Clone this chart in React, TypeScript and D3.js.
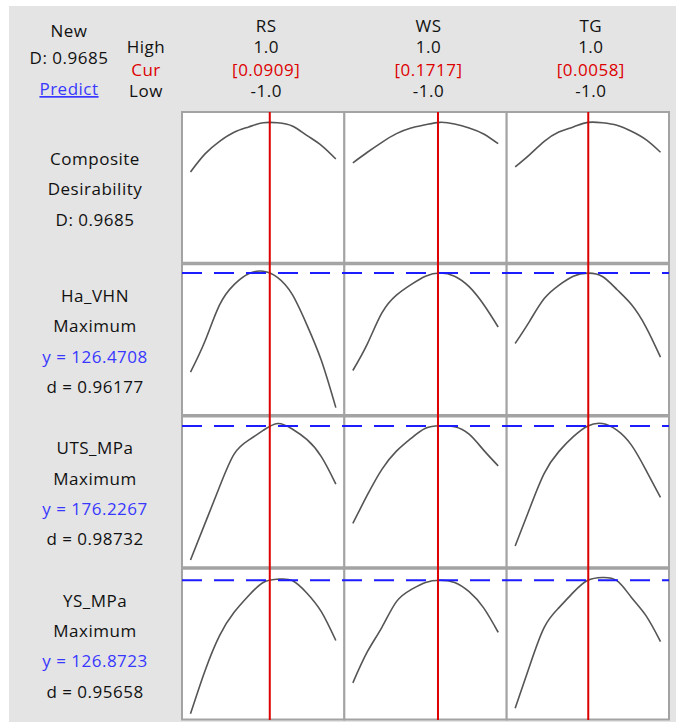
import React from "react";
import * as d3 from "d3";

// Factor settings (coded units)
const factors = ["RS", "WS", "TG"];
const factorHigh = ["1.0", "1.0", "1.0"];
const factorLow = ["-1.0", "-1.0", "-1.0"];
const factorCur = [0.0909, 0.1717, 0.0058];

// Factor levels at which each response trace is sampled
const levels = [-1, -0.8, -0.6, -0.4, -0.2, 0, 0.2, 0.4, 0.6, 0.8, 1];

// Composite desirability traces
const compositeRS = [0.614, 0.743, 0.833, 0.898, 0.936, 0.966, 0.966, 0.943, 0.876, 0.805, 0.707];
const compositeWS = [0.679, 0.755, 0.826, 0.888, 0.929, 0.952, 0.969, 0.957, 0.929, 0.886, 0.816];
const compositeTG = [0.65, 0.738, 0.833, 0.9, 0.936, 0.9685, 0.966, 0.948, 0.905, 0.845, 0.755];

// Ha_VHN traces
const haRS = [98.2, 107.1, 117.4, 123.2, 126.3, 127.0, 125.2, 120.4, 111.8, 101.6, 88.1];
const haWS = [98.7, 106.3, 115.1, 120.2, 123.2, 125.6, 126.5, 125.6, 122.6, 117.5, 111.1];
const haTG = [106.4, 112.8, 119.2, 123.0, 125.6, 126.47, 125.5, 121.8, 117.5, 111.1, 102.5];

// UTS_MPa traces
const utsRS = [122.4, 137.1, 151.8, 164.9, 170.5, 174.4, 177.2, 175.0, 170.8, 163.9, 152.9];
const utsWS = [137.1, 148.5, 158.8, 166.1, 171.2, 175.3, 176.3, 175.9, 172.9, 166.5, 160.2];
const utsTG = [128.0, 143.1, 157.2, 165.9, 171.9, 176.2, 177.2, 174.5, 168.5, 158.5, 147.5];

// YS_MPa traces
const ysRS = [73.3, 90.6, 104.7, 114.0, 120.7, 126.0, 127.3, 126.8, 121.8, 114.3, 102.7];
const ysWS = [85.7, 98.2, 108.0, 118.3, 123.1, 126.0, 126.9, 126.0, 122.3, 115.8, 106.0];
const ysTG = [75.5, 92.6, 108.0, 115.8, 122.0, 126.87, 128.0, 126.7, 120.0, 112.7, 102.3];

// Response rows
const rowKeys = ["composite", "ha", "uts", "ys"];
const rowTraces = [
  [compositeRS, compositeWS, compositeTG],
  [haRS, haWS, haTG],
  [utsRS, utsWS, utsTG],
  [ysRS, ysWS, ysTG],
];
const rowDomains: [number, number][] = [
  [-0.036, 1.043],
  [86, 129],
  [119.5, 180],
  [71, 131.5],
];
const responseNames = ["Ha_VHN", "UTS_MPa", "YS_MPa"];
const responseGoals = ["Maximum", "Maximum", "Maximum"];
const responsePred = [126.4708, 176.2267, 126.8723];
const responsePredText = ["126.4708", "176.2267", "126.8723"];
const responseD = ["0.96177", "0.98732", "0.95658"];
const compositeD = "0.9685";

const W = 676;
const H = 722;
const FONT = "'Open Sans', 'Noto Sans', sans-serif";
const GRID = "#a3a3a3";
const RED = "#dd0000";
const BLUE = "#1c1cff";
const BLUE_TEXT = "#3838ff";
const TEXT = "#111111";

export default function App() {
  const colScale = d3.scaleBand<string>().domain(factors).range([182, 669]);
  const rowScale = d3.scaleBand<string>().domain(rowKeys).range([112, 721]);
  const rowH = rowScale.step() - 1.5;
  const colW = colScale.bandwidth();

  const xFor = (i: number) => {
    const x0 = colScale(factors[i])!;
    return d3.scaleLinear().domain([-1, 1]).range([x0 + 8.5, x0 + colW - 8.5]);
  };
  const yFor = (r: number) => {
    const y0 = rowScale(rowKeys[r])!;
    return d3.scaleLinear().domain(rowDomains[r]).range([y0 + rowH, y0]);
  };

  const textStyle = { fontFamily: FONT, fontSize: 17, letterSpacing: 0.5 } as const;
  const leftCx = 95;
  const lineGap = 30.3;

  const labelBlock = (r: number, lines: { t: string; c: string }[]) => {
    const y0 = rowScale(rowKeys[r])!;
    const mid = y0 + rowH / 2 + 8;
    const start = mid - ((lines.length - 1) / 2) * lineGap;
    return lines.map((l, k) => (
      <text key={`${r}-${k}`} x={leftCx} y={start + k * lineGap} textAnchor="middle" fill={l.c} style={textStyle}>
        {l.t}
      </text>
    ));
  };

  return (
    <svg width={W} height={H} style={{ position: "absolute", left: 0, top: 0 }}>
      <rect x={0} y={0} width={W} height={H} fill="#ffffff" />
      <rect x={9} y={6} width={W - 9} height={H - 6} fill="#e4e4e4" />

      {/* top-left summary */}
      <text x={69} y={37} textAnchor="middle" fill={TEXT} style={textStyle}>New</text>
      <text x={69} y={64} textAnchor="middle" fill={TEXT} style={textStyle}>D: {compositeD}</text>
      <text x={69} y={95} textAnchor="middle" fill={BLUE_TEXT} style={{ ...textStyle, textDecoration: "underline" }}>Predict</text>
      <text x={146} y={53} textAnchor="middle" fill={TEXT} style={textStyle}>High</text>
      <text x={146} y={76} textAnchor="middle" fill={RED} style={textStyle}>Cur</text>
      <text x={146} y={97} textAnchor="middle" fill={TEXT} style={textStyle}>Low</text>

      {/* factor headers */}
      {factors.map((f, i) => {
        const cx = colScale(f)! + colW / 2 + 3;
        return (
          <g key={f}>
            <text x={cx} y={32} textAnchor="middle" fill={TEXT} style={textStyle}>{f}</text>
            <text x={cx} y={53} textAnchor="middle" fill={TEXT} style={textStyle}>{factorHigh[i]}</text>
            <text x={cx} y={76} textAnchor="middle" fill={RED} style={textStyle}>[{factorCur[i].toFixed(4)}]</text>
            <text x={cx} y={97} textAnchor="middle" fill={TEXT} style={textStyle}>{factorLow[i]}</text>
          </g>
        );
      })}

      {/* panels */}
      {rowKeys.map((rk) =>
        factors.map((f) => (
          <rect
            key={`${rk}-${f}`}
            x={colScale(f)!}
            y={rowScale(rk)!}
            width={colW}
            height={rowH}
            fill="#ffffff"
            stroke={GRID}
            strokeWidth={2}
          />
        ))
      )}

      {/* response traces */}
      {rowTraces.map((traces, r) => {
        const y = yFor(r);
        return traces.map((vals, i) => {
          const x = xFor(i);
          const line = d3
            .line<number>()
            .x((_, k) => x(levels[k]))
            .y((v) => y(v))
            .curve(d3.curveNatural);
          return (
            <path key={`${r}-${i}`} d={line(vals) || ""} fill="none" stroke="#555555" strokeWidth={1.6} />
          );
        });
      })}

      {/* predicted response reference lines */}
      {responsePred.map((p, k) => {
        const y = yFor(k + 1)(p);
        return (
          <line key={k} x1={182} x2={669} y1={y} y2={y} stroke={BLUE} strokeWidth={2} strokeDasharray="20 12" />
        );
      })}

      {/* current factor settings */}
      {factorCur.map((c, i) => {
        const x = xFor(i)(c);
        return <line key={i} x1={x} x2={x} y1={rowScale(rowKeys[0])!} y2={720} stroke={RED} strokeWidth={2} />;
      })}

      {/* row labels */}
      {labelBlock(0, [
        { t: "Composite", c: TEXT },
        { t: "Desirability", c: TEXT },
        { t: `D: ${compositeD}`, c: TEXT },
      ])}
      {responseNames.map((n, k) =>
        labelBlock(k + 1, [
          { t: n, c: TEXT },
          { t: responseGoals[k], c: TEXT },
          { t: `y = ${responsePredText[k]}`, c: BLUE_TEXT },
          { t: `d = ${responseD[k]}`, c: TEXT },
        ])
      )}
    </svg>
  );
}
